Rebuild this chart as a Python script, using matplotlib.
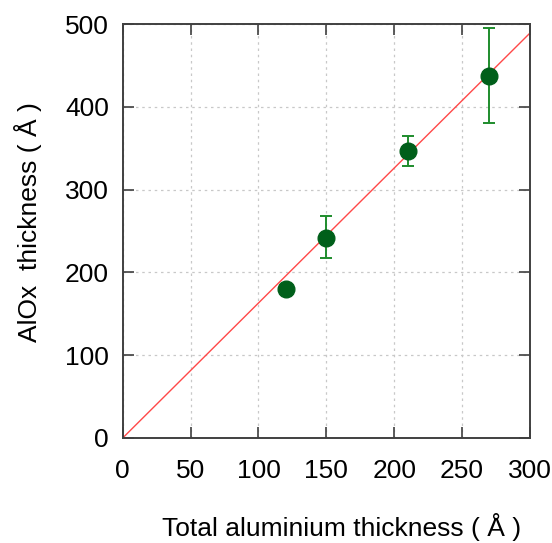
import matplotlib
matplotlib.use("Agg")
import matplotlib.pyplot as plt
import numpy as np

plt.rcParams['font.family'] = ['Liberation Sans', 'DejaVu Sans']

# Data
al_thickness = [120, 150, 210, 270]
alox_thickness = [180, 242, 347, 437]
err_low = [0, 25, 19, 57]
err_high = [0, 26, 18, 58]
fit_slope = 1.63
fit_x = [0, 300]
x_ticks = [0, 50, 100, 150, 200, 250, 300]
y_ticks = [0, 100, 200, 300, 400, 500]

fig = plt.figure(figsize=(5.52, 5.43), dpi=100)
ax = fig.add_axes([0.2223, 0.1934, 0.7377, 0.7624])

ax.plot(fit_x, [fit_slope * v for v in fit_x], color='#ff4848', lw=1.0, zorder=2)
ax.errorbar(al_thickness, alox_thickness, yerr=[err_low, err_high], fmt='o',
            color='#005f1a', ecolor='#1e8c2c', elinewidth=1.4, capsize=4,
            capthick=1.4, markersize=12, zorder=3)

ax.set_xlim(0, 300)
ax.set_ylim(0, 500)
ax.set_xticks(x_ticks)
ax.set_yticks(y_ticks)
ax.grid(True, color='#c8c8c8', linestyle=(0, (2, 3)), linewidth=0.9)
ax.set_axisbelow(True)
ax.tick_params(direction='in', length=8, width=1.2, color='#404040',
               top=True, right=True, labelsize=19, pad=10)
ax.tick_params(axis='x', pad=15)
for s in ax.spines.values():
    s.set_color('#404040')
    s.set_linewidth(1.4)

fig.text(0.618, 0.030, 'Total aluminium thickness ( Å )', ha='center', va='center', fontsize=19)
fig.text(0.050, 0.591, 'AlOx  thickness ( Å )', ha='center', va='center', rotation=90, fontsize=19)

fig.savefig('out.png', dpi=100)
